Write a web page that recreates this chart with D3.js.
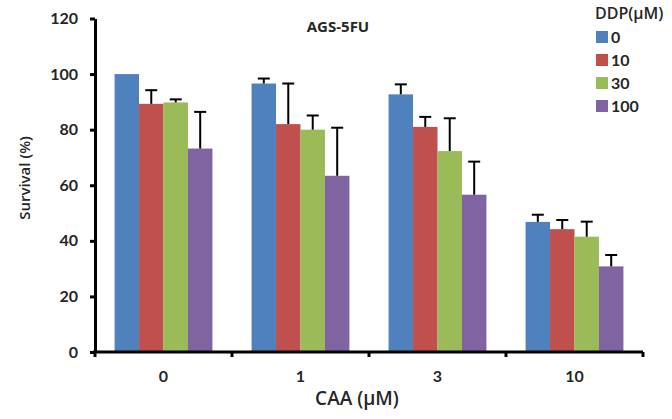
<!DOCTYPE html>
<html lang="en">
<head>
<meta charset="utf-8">
<title>AGS-5FU</title>
<script src="https://cdn.jsdelivr.net/npm/d3@7"></script>
<style>
  body { margin: 0; background: #fff; }
  svg text { font-family: "Open Sans", "Liberation Sans", sans-serif; fill: #262626; }
</style>
</head>
<body>
<script>
// data
var categories = ["0", "1", "3", "10"];          // CAA (uM)
var doses = ["0", "10", "30", "100"];             // DDP (uM)
var means = [
  [100, 89.3, 89.8, 73.2],
  [96.6, 82.0, 80.0, 63.4],
  [92.7, 81.0, 72.3, 56.6],
  [46.8, 44.2, 41.5, 30.8]
];
var errors = [
  [0, 4.9, 1.1, 13.2],
  [1.8, 14.6, 5.1, 17.3],
  [3.6, 3.6, 11.8, 11.9],
  [2.6, 3.3, 5.4, 4.1]
];
var yTicks = [0, 20, 40, 60, 80, 100, 120];
var colors = ["#4f81bd", "#c0504d", "#9bbb59", "#8064a2"];

var w = 672, h = 419;
var plotLeft = 95, plotRight = 643, plotTop = 18.5, plotBottom = 352;

var svg = d3.select("body").append("svg")
  .attr("width", w)
  .attr("height", h);

var x = d3.scaleBand()
  .domain(categories)
  .range([plotLeft, plotRight])
  .paddingInner(0)
  .paddingOuter(0);

var xi = d3.scaleBand()
  .domain(doses)
  .range([0, x.bandwidth()])
  .paddingOuter(0.8)
  .paddingInner(0);

var y = d3.scaleLinear()
  .domain([0, 120])
  .range([plotBottom, plotTop]);

function rows(d, i) {
  return doses.map(function(k, j) { return {k: k, j: j, v: means[i][j], e: errors[i][j]}; });
}

// bars
var groups = svg.append("g").selectAll("g")
  .data(categories)
  .join("g")
  .attr("transform", function(d) { return "translate(" + x(d) + ",0)"; });

groups.selectAll("rect")
  .data(rows)
  .join("rect")
  .attr("x", function(d) { return xi(d.k); })
  .attr("width", xi.bandwidth())
  .attr("y", function(d) { return y(d.v); })
  .attr("height", function(d) { return y(0) - y(d.v); })
  .attr("fill", function(d) { return colors[d.j]; });

// error bars (upper only), skip zero errors
var errs = groups.selectAll("g.err")
  .data(function(d, i) { return rows(d, i).filter(function(r) { return r.e > 0; }); })
  .join("g")
  .attr("class", "err")
  .attr("stroke", "#000")
  .attr("stroke-width", 2);

errs.append("line")
  .attr("x1", function(d) { return xi(d.k) + xi.bandwidth() / 2; })
  .attr("x2", function(d) { return xi(d.k) + xi.bandwidth() / 2; })
  .attr("y1", function(d) { return y(d.v); })
  .attr("y2", function(d) { return y(d.v + d.e); });

errs.append("line")
  .attr("x1", function(d) { return xi(d.k) + xi.bandwidth() / 2 - 6; })
  .attr("x2", function(d) { return xi(d.k) + xi.bandwidth() / 2 + 6; })
  .attr("y1", function(d) { return y(d.v + d.e); })
  .attr("y2", function(d) { return y(d.v + d.e); });

// y axis
var yAxis = svg.append("g")
  .attr("transform", "translate(" + plotLeft + ",0)")
  .call(d3.axisLeft(y).tickValues(yTicks).tickSize(5).tickPadding(12).tickSizeOuter(0));
yAxis.select(".domain").attr("stroke", "#000").attr("stroke-width", 3);
yAxis.selectAll(".tick line").attr("stroke", "#000").attr("stroke-width", 3);
yAxis.selectAll("text")
  .attr("font-size", 16).attr("font-weight", "bold")
  .style("font-family", "Lato, 'Open Sans', sans-serif").style("fill", "#262626");

// x axis: ticks at band edges
var xAxis = svg.append("g")
  .attr("transform", "translate(0," + plotBottom + ")");
xAxis.append("line")
  .attr("x1", plotLeft - 2).attr("x2", plotRight)
  .attr("y1", 0).attr("y2", 0)
  .attr("stroke", "#000").attr("stroke-width", 3);
xAxis.selectAll("line.tk")
  .data(categories.concat(["end"]))
  .join("line")
  .attr("class", "tk")
  .attr("x1", function(d, i) { return i < categories.length ? x(d) : plotRight; })
  .attr("x2", function(d, i) { return i < categories.length ? x(d) : plotRight; })
  .attr("y1", 0).attr("y2", 5)
  .attr("stroke", "#000").attr("stroke-width", 3);
xAxis.selectAll("text")
  .data(categories)
  .join("text")
  .attr("x", function(d) { return x(d) + x.bandwidth() / 2; })
  .attr("y", 30)
  .attr("text-anchor", "middle")
  .attr("font-size", 16).attr("font-weight", "bold")
  .style("font-family", "Lato, 'Open Sans', sans-serif")
  .text(function(d) { return d; });

// titles
svg.append("text")
  .attr("x", 338).attr("y", 32)
  .attr("text-anchor", "middle")
  .attr("font-size", 15).attr("font-weight", "bold")
  .text("AGS-5FU");

svg.append("text")
  .attr("transform", "translate(30,178) rotate(-90)")
  .attr("text-anchor", "middle")
  .attr("font-size", 15).attr("font-weight", 600)
  .text("Survival (%)");

svg.append("text")
  .attr("x", 357).attr("y", 405)
  .attr("text-anchor", "middle")
  .attr("font-size", 19).attr("font-weight", 600)
  .text("CAA (\u03bcM)");

// legend
var legend = svg.append("g").attr("transform", "translate(596,0)");
legend.append("text")
  .attr("x", -1).attr("y", 19)
  .attr("font-size", 16).attr("font-weight", 600)
  .text("DDP(\u03bcM)");
var items = legend.selectAll("g.item")
  .data(doses)
  .join("g")
  .attr("class", "item")
  .attr("transform", function(d, i) { return "translate(0," + (37 + i * 23) + ")"; });
items.append("rect")
  .attr("x", 0).attr("y", -6).attr("width", 12).attr("height", 12)
  .attr("fill", function(d, i) { return colors[i]; });
items.append("text")
  .attr("x", 15).attr("y", 6)
  .attr("font-size", 16).attr("font-weight", "bold")
  .style("font-family", "Lato, 'Open Sans', sans-serif")
  .text(function(d) { return d; });
</script>
</body>
</html>
